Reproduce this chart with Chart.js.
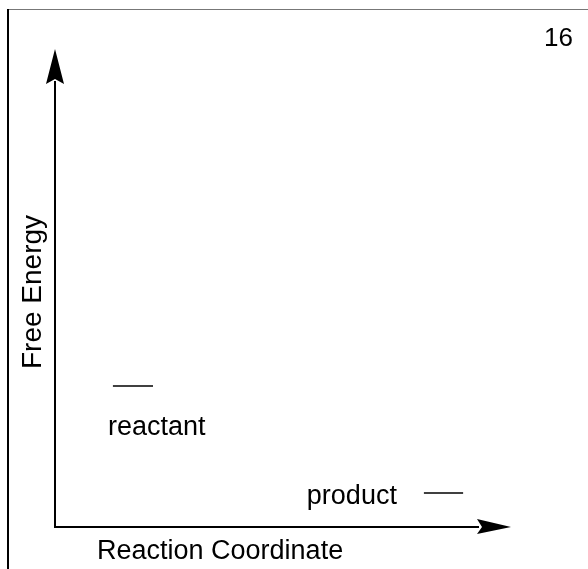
<!DOCTYPE html>
<html>
<head>
<meta charset="utf-8">
<script src="https://cdn.jsdelivr.net/npm/chart.js@4"></script>
<style>
  html, body { margin: 0; padding: 0; background: #fff; }
  canvas { display: block; }
</style>
</head>
<body>
<canvas id="chart" width="588" height="569"></canvas>
<script>
// energy levels (0..100 on both axes)
const levelNames = ["reactant", "product"];
const levelEnergy = [29.5, 7.1];
const levelStart = [12.7, 80.9];
const levelEnd = [21.5, 89.5];

const xAxisTitle = "Reaction Coordinate";
const yAxisTitle = "Free Energy";
const pageNumber = "16";

const FAMILY = '"Liberation Sans", Arial, sans-serif';

// frame, arrowed axes and all the text
const diagramPlugin = {
  id: "diagram",
  afterDatasetsDraw(chart) {
    const ctx = chart.ctx;
    const a = chart.chartArea;
    const x = chart.scales.x;
    const y = chart.scales.y;
    ctx.save();

    // page frame
    ctx.strokeStyle = "#777";
    ctx.lineWidth = 1;
    ctx.beginPath();
    ctx.moveTo(8, 9.5);
    ctx.lineTo(chart.width, 9.5);
    ctx.stroke();
    ctx.strokeStyle = "#000";
    ctx.lineWidth = 2;
    ctx.beginPath();
    ctx.moveTo(8, 9);
    ctx.lineTo(8, chart.height);
    ctx.stroke();

    // axes
    ctx.fillStyle = "#000";
    ctx.strokeStyle = "#000";
    ctx.lineWidth = 2;
    ctx.beginPath();
    ctx.moveTo(a.left, a.top + 32);
    ctx.lineTo(a.left, a.bottom + 1);
    ctx.moveTo(a.left, a.bottom);
    ctx.lineTo(a.right - 32, a.bottom);
    ctx.stroke();

    // arrow heads
    ctx.beginPath();
    ctx.moveTo(a.left, a.top);
    ctx.lineTo(a.left + 9, a.top + 35);
    ctx.lineTo(a.left, a.top + 30);
    ctx.lineTo(a.left - 9, a.top + 35);
    ctx.closePath();
    ctx.fill();
    ctx.beginPath();
    ctx.moveTo(a.right, a.bottom);
    ctx.lineTo(a.right - 34, a.bottom - 8);
    ctx.lineTo(a.right - 29, a.bottom);
    ctx.lineTo(a.right - 34, a.bottom + 7);
    ctx.closePath();
    ctx.fill();

    // text
    ctx.font = "27px " + FAMILY;
    ctx.fillStyle = "#000";
    ctx.textBaseline = "alphabetic";

    ctx.textAlign = "left";
    ctx.fillText(levelNames[0], x.getPixelForValue(levelStart[0]) - 5,
      y.getPixelForValue(levelEnergy[0]) + 49);
    ctx.textAlign = "right";
    ctx.fillText(levelNames[1], x.getPixelForValue(levelStart[1]) - 27,
      y.getPixelForValue(levelEnergy[1]) + 11);

    ctx.textAlign = "left";
    ctx.fillText(xAxisTitle, 97, a.bottom + 32);
    ctx.font = "26px " + FAMILY;
    ctx.fillText(pageNumber, 544, 46);

    ctx.save();
    ctx.font = "28px " + FAMILY;
    ctx.translate(41, 369);
    ctx.rotate(-Math.PI / 2);
    ctx.fillText(yAxisTitle, 0, 0);
    ctx.restore();

    ctx.restore();
  }
};

const datasets = levelNames.map((name, i) => ({
  label: name,
  data: [
    { x: levelStart[i], y: levelEnergy[i] },
    { x: levelEnd[i], y: levelEnergy[i] }
  ],
  showLine: true,
  borderColor: "#000",
  borderWidth: 1.5,
  pointRadius: 0
}));

new Chart(document.getElementById("chart"), {
  type: "scatter",
  data: { datasets },
  options: {
    responsive: false,
    animation: false,
    layout: { padding: { left: 55, right: 77, top: 49, bottom: 42 } },
    plugins: {
      legend: { display: false },
      tooltip: { enabled: false }
    },
    scales: {
      x: { type: "linear", min: 0, max: 100, display: false },
      y: { type: "linear", min: 0, max: 100, display: false }
    }
  },
  plugins: [diagramPlugin]
});
</script>
</body>
</html>
